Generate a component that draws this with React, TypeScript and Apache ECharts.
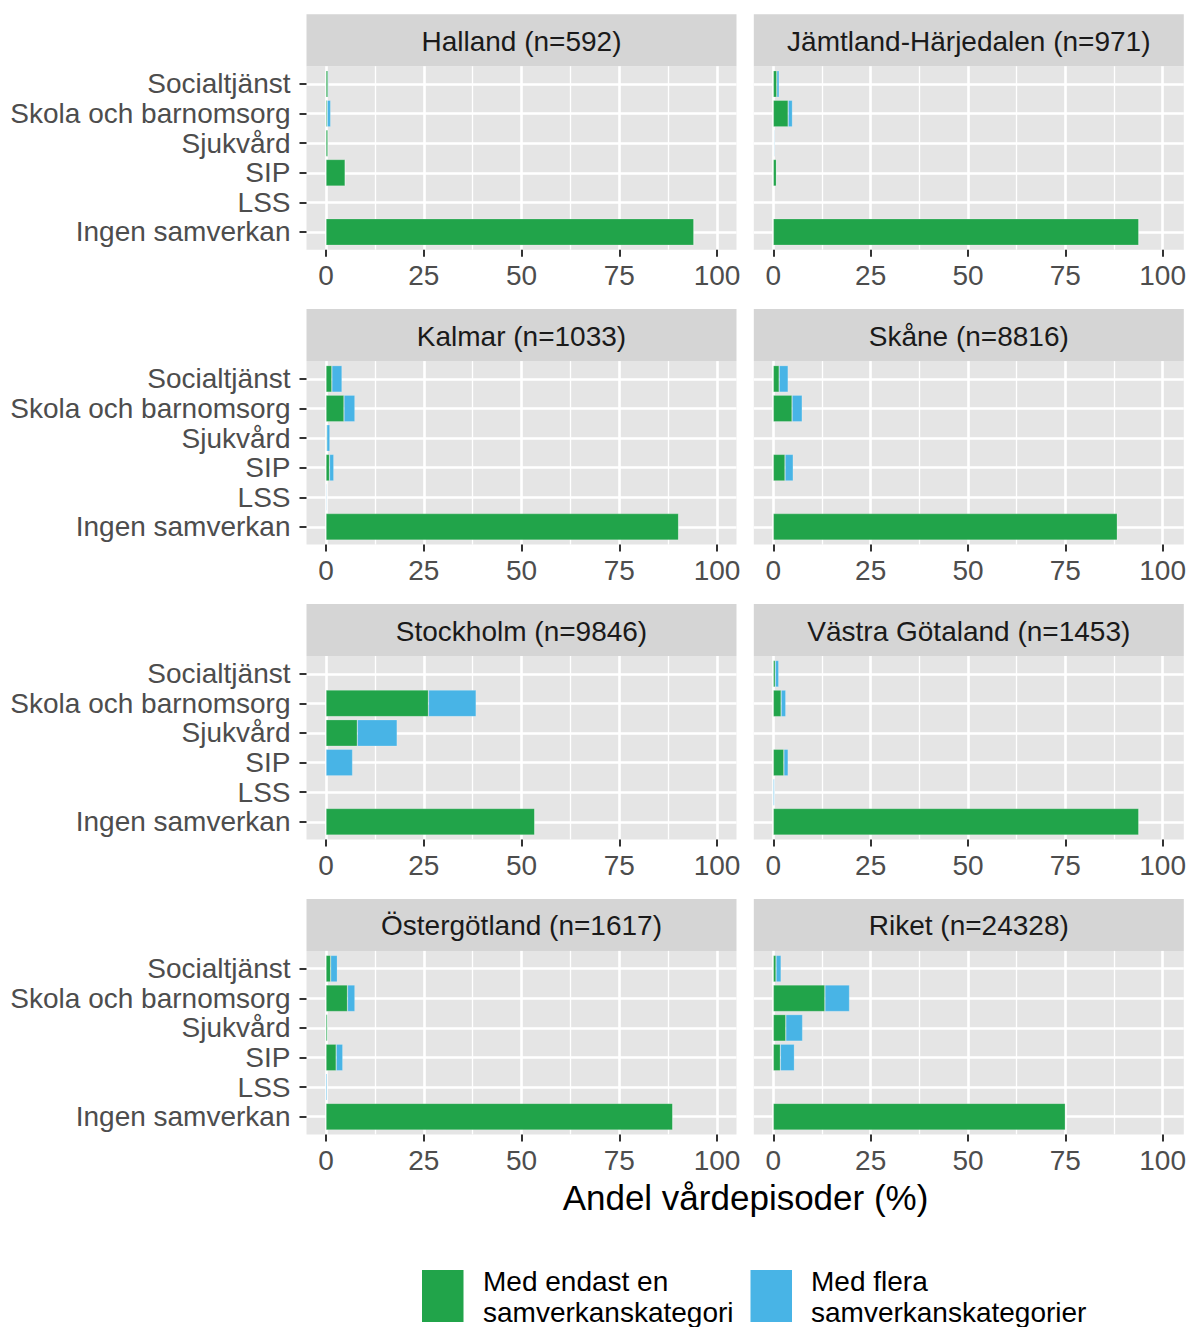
import React, { useEffect, useRef } from 'react';
import * as echarts from 'echarts';

// ---------- data ----------
const categories = ['Socialtjänst', 'Skola och barnomsorg', 'Sjukvård', 'SIP', 'LSS', 'Ingen samverkan'];
const panelTitles = [
  'Halland (n=592)',
  'Jämtland-Härjedalen (n=971)',
  'Kalmar (n=1033)',
  'Skåne (n=8816)',
  'Stockholm (n=9846)',
  'Västra Götaland (n=1453)',
  'Östergötland (n=1617)',
  'Riket (n=24328)',
];
const seriesNames = ['Med endast en samverkanskategori', 'Med flera samverkanskategorier'];
const legendLabels = ['Med endast en\nsamverkanskategori', 'Med flera\nsamverkanskategorier'];
const xTicks = [0, 25, 50, 75, 100];
const axisTitle = 'Andel vårdepisoder (%)';

const hallandSingle = [0.5, 0.3, 0.5, 4.9, 0, 94.1];
const hallandMulti = [0.2, 0.9, 0.05, 0.1, 0, 0];
const jamtlandSingle = [0.9, 3.8, 0.1, 0.8, 0, 93.5];
const jamtlandMulti = [0.6, 1.1, 0.2, 0.1, 0, 0];
const kalmarSingle = [1.5, 4.6, 0.2, 0.9, 0.05, 90.2];
const kalmarMulti = [2.6, 2.8, 0.8, 1.1, 0.2, 0];
const skaneSingle = [1.5, 4.8, 0, 3.0, 0, 88.0];
const skaneMulti = [2.3, 2.6, 0, 2.1, 0, 0];
const stockholmSingle = [0, 26.2, 8.0, 0, 0, 53.4];
const stockholmMulti = [0, 12.2, 10.2, 6.8, 0, 0];
const vgSingle = [0.5, 2.0, 0, 2.7, 0, 93.5];
const vgMulti = [0.9, 1.2, 0, 1.1, 0.3, 0];
const ostergotlandSingle = [1.2, 5.5, 0.4, 2.6, 0, 88.7];
const ostergotlandMulti = [1.7, 1.9, 0, 1.7, 0.3, 0];
const riketSingle = [0.7, 13.2, 3.2, 1.8, 0, 74.7];
const riketMulti = [1.3, 6.3, 4.3, 3.6, 0, 0];

const singleByPanel = [hallandSingle, jamtlandSingle, kalmarSingle, skaneSingle, stockholmSingle, vgSingle, ostergotlandSingle, riketSingle];
const multiByPanel = [hallandMulti, jamtlandMulti, kalmarMulti, skaneMulti, stockholmMulti, vgMulti, ostergotlandMulti, riketMulti];

// ---------- style / layout ----------
const FONT = '"Liberation Sans", Arial, Helvetica, sans-serif';
const GREEN = '#21A44A';
const BLUE = '#48B4E6';
const PANEL_BG = '#E5E5E5';
const STRIP_BG = '#D5D5D5';
const colPanelLeft = [306.5, 753.8];
const PANEL_W = 430;
const DATA_OFF = 19.5;
const DATA_W = 391;
const ROW_TOP0 = 66.2;
const ROW_STEP = 294.9;
const PANEL_H = 183.5;
const CAT_OFF = 2.96;
const CAT_H = 177.6;
const STRIP_H = 52;
const FS = 28;

function buildOption() {
  const grid: any[] = [];
  const xAxis: any[] = [];
  const yAxis: any[] = [];
  const series: any[] = [];
  const graphic: any[] = [];

  panelTitles.forEach((title, i) => {
    const col = i % 2;
    const row = Math.floor(i / 2);
    const pl = colPanelLeft[col];
    const pt = ROW_TOP0 + row * ROW_STEP;
    const showY = col === 0;

    // background + strip
    graphic.push({ type: 'rect', z: -10, silent: true, shape: { x: pl, y: pt, width: PANEL_W, height: PANEL_H }, style: { fill: PANEL_BG } });
    graphic.push({ type: 'rect', z: -10, silent: true, shape: { x: pl, y: pt - STRIP_H, width: PANEL_W, height: STRIP_H }, style: { fill: STRIP_BG } });
    graphic.push({
      type: 'text', z: 5, silent: true, x: pl + PANEL_W / 2, y: pt - STRIP_H / 2 + 1,
      style: { text: title, fontFamily: FONT, fontSize: FS, fill: '#1A1A1A', align: 'center', verticalAlign: 'middle', textAlign: 'center', textVerticalAlign: 'middle' },
    });

    // grid h: horizontal grid lines + y labels
    const gh = grid.length;
    grid.push({ left: pl, top: pt + CAT_OFF, width: PANEL_W, height: CAT_H, containLabel: false });
    xAxis.push({ gridIndex: gh, type: 'value', min: 0, max: 100, show: false });
    yAxis.push({
      gridIndex: gh, type: 'category', inverse: true, data: categories,
      axisLine: { show: false },
      axisTick: { show: showY, interval: 0, alignWithLabel: true, length: 7, lineStyle: { color: '#333333', width: 2 } },
      axisLabel: { show: showY, interval: 0, margin: 16, fontFamily: FONT, fontSize: FS, color: '#4D4D4D', padding: [3, 0, 0, 0] },
      splitLine: { show: true, interval: 0, alignWithLabel: true, lineStyle: { color: '#FFFFFF', width: 2.6 } },
    });

    // grid v: vertical lines + x labels
    const gv = grid.length;
    grid.push({ left: pl + DATA_OFF, top: pt, width: DATA_W, height: PANEL_H, containLabel: false });
    xAxis.push({
      gridIndex: gv, type: 'value', min: 0, max: 100, interval: 25,
      axisLine: { show: false },
      axisTick: { show: true, length: 7, lineStyle: { color: '#333333', width: 2 } },
      axisLabel: { show: true, margin: 12, fontFamily: FONT, fontSize: FS, color: '#4D4D4D', customValues: xTicks },
      splitLine: { show: true, lineStyle: { color: '#FFFFFF', width: 2.6 } },
      minorTick: { show: false, splitNumber: 2 },
      minorSplitLine: { show: true, lineStyle: { color: '#FFFFFF', width: 1.3 } },
    });
    yAxis.push({ gridIndex: gv, type: 'value', min: 0, max: 1, show: false, splitLine: { show: false } });

    // grid b: bars
    const gb = grid.length;
    grid.push({ left: pl + DATA_OFF, top: pt + CAT_OFF, width: DATA_W, height: CAT_H, containLabel: false });
    xAxis.push({ gridIndex: gb, type: 'value', min: 0, max: 100, show: false, splitLine: { show: false } });
    yAxis.push({ gridIndex: gb, type: 'category', inverse: true, data: categories, show: false, splitLine: { show: false } });

    series.push({
      type: 'bar', name: seriesNames[0], xAxisIndex: gb, yAxisIndex: gb, stack: 'p' + i,
      data: singleByPanel[i], barWidth: 26.6, silent: true, z: 3,
      itemStyle: { color: GREEN, borderColor: 'rgba(255,255,255,0.35)', borderWidth: 0.6 },
    });
    series.push({
      type: 'bar', name: seriesNames[1], xAxisIndex: gb, yAxisIndex: gb, stack: 'p' + i,
      data: multiByPanel[i], barWidth: 26.6, silent: true, z: 3,
      itemStyle: { color: BLUE, borderColor: 'rgba(255,255,255,0.35)', borderWidth: 0.6 },
    });
  });

  // axis title
  graphic.push({
    type: 'text', silent: true, x: 745.5, y: 1197,
    style: { text: axisTitle, fontFamily: FONT, fontSize: 35, fill: '#000000', align: 'center', verticalAlign: 'middle', textAlign: 'center', textVerticalAlign: 'middle' },
  });

  // legend
  const legendX = [422, 750.5];
  const legendTextX = [483, 811];
  const colors = [GREEN, BLUE];
  legendLabels.forEach((lab, k) => {
    graphic.push({ type: 'rect', silent: true, shape: { x: legendX[k], y: 1270, width: 41.5, height: 52 }, style: { fill: colors[k] } });
    graphic.push({
      type: 'text', silent: true, x: legendTextX[k], y: 1297,
      style: { text: lab, fontFamily: FONT, fontSize: FS, lineHeight: 31, fill: '#000000', align: 'left', verticalAlign: 'middle', textAlign: 'left', textVerticalAlign: 'middle' },
    });
  });

  return {
    animation: false,
    backgroundColor: '#FFFFFF',
    textStyle: { fontFamily: FONT },
    grid, xAxis, yAxis, series, graphic,
  };
}

export default function App() {
  const ref = useRef<HTMLDivElement>(null);
  useEffect(() => {
    document.body.style.margin = '0';
    const chart = echarts.init(ref.current!, undefined, { renderer: 'svg' });
    chart.setOption(buildOption() as any);
    return () => chart.dispose();
  }, []);
  return <div ref={ref} style={{ position: 'absolute', left: 0, top: 0, width: 1189, height: 1327 }} />;
}
